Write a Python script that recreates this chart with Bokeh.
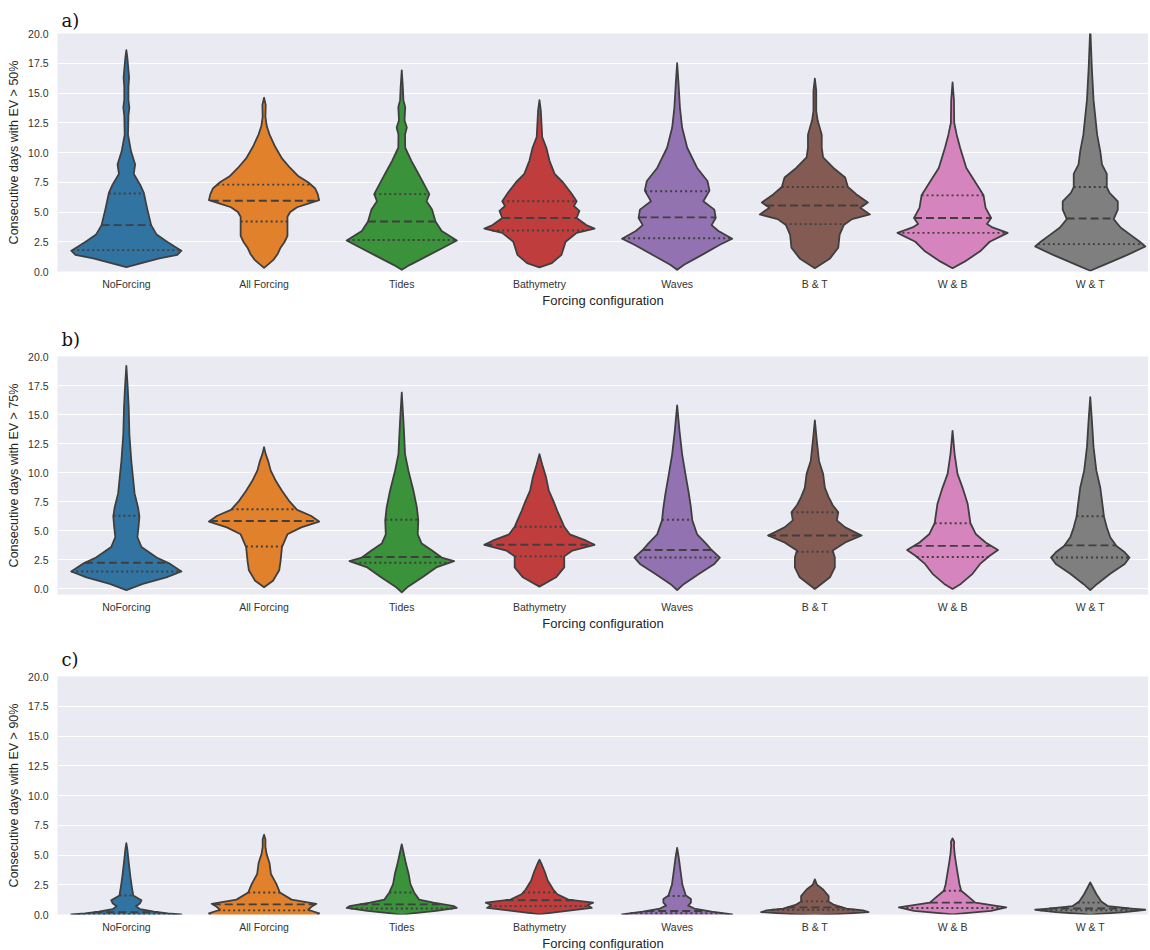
import numpy as np
from bokeh.plotting import figure
from bokeh.models import ColumnDataSource, Range1d, FixedTicker, NumeralTickFormatter, Title
from bokeh.layouts import column
from bokeh.embed import file_html
from bokeh.resources import INLINE

# ---------------- data ----------------
categories = ["NoForcing", "All Forcing", "Tides", "Bathymetry", "Waves", "B & T", "W & B", "W & T"]
y_ticks = [0.0, 2.5, 5.0, 7.5, 10.0, 12.5, 15.0, 17.5, 20.0]

# Panel a) EV > 50% : violin outlines (value, half-width in category units)
a_noforcing_y = [0.37, 0.7, 1.1, 1.4, 1.75, 2.1, 2.55, 3.1, 3.9, 5.35, 6.6, 7.3, 8.2, 9.0, 10.1, 11.5, 13.1, 13.8, 14.4, 15.5, 16.3, 18.0, 18.6]
a_noforcing_w = [0, 0.11, 0.24, 0.37, 0.40, 0.35, 0.29, 0.22, 0.18, 0.15, 0.127, 0.10, 0.054, 0.064, 0.034, 0.012, 0.015, 0.022, 0.015, 0.015, 0.02, 0.007, 0]
a_allforcing_y = [0.3, 0.6, 1.0, 1.5, 2.0, 2.5, 3.0, 4.0, 4.6, 5.0, 5.4, 5.7, 6.0, 6.5, 7.0, 7.5, 8.0, 8.7, 9.5, 10.5, 11.5, 12.2, 13.0, 14.0, 14.6]
a_allforcing_w = [0, 0.03, 0.07, 0.10, 0.12, 0.15, 0.17, 0.17, 0.17, 0.19, 0.24, 0.32, 0.40, 0.39, 0.37, 0.32, 0.25, 0.19, 0.13, 0.08, 0.04, 0.02, 0.01, 0.012, 0]
a_tides_y = [0.14, 0.56, 1.4, 2.0, 2.6, 3.4, 4.2, 5.2, 5.9, 6.5, 7.6, 8.45, 9.3, 10.4, 11.5, 12.1, 12.7, 13.8, 14.4, 15.5, 16.9]
a_tides_w = [0, 0.06, 0.2, 0.3, 0.40, 0.29, 0.245, 0.22, 0.18, 0.2, 0.15, 0.11, 0.07, 0.025, 0.024, 0.037, 0.02, 0.025, 0.012, 0.008, 0]
a_bathy_y = [0.34, 0.7, 1.4, 2.5, 3.25, 3.6, 3.9, 4.5, 5.1, 5.5, 5.9, 6.6, 7.5, 8.2, 9.3, 10.4, 11.3, 13.5, 14.4]
a_bathy_w = [0, 0.09, 0.16, 0.19, 0.27, 0.40, 0.34, 0.27, 0.29, 0.25, 0.27, 0.23, 0.17, 0.11, 0.073, 0.05, 0.02, 0.01, 0]
a_waves_y = [0.14, 0.56, 1.4, 2.25, 2.75, 3.4, 3.9, 4.5, 5.2, 5.9, 6.8, 7.6, 8.7, 10.4, 12.1, 13.8, 15.8, 17.5]
a_waves_w = [0, 0.05, 0.18, 0.31, 0.40, 0.30, 0.25, 0.28, 0.27, 0.19, 0.235, 0.22, 0.145, 0.073, 0.036, 0.02, 0.01, 0]
a_bt_y = [0.28, 1.1, 2.0, 3.1, 3.9, 4.4, 4.8, 5.35, 5.8, 6.5, 7.1, 7.9, 8.7, 9.6, 10.4, 11.5, 12.7, 13.5, 15.2, 16.2]
a_bt_w = [0, 0.11, 0.17, 0.18, 0.21, 0.27, 0.40, 0.33, 0.385, 0.30, 0.24, 0.22, 0.135, 0.06, 0.05, 0.05, 0.02, 0.01, 0.01, 0]
a_wb_y = [0.28, 0.85, 1.7, 2.5, 3.25, 3.7, 4.0, 4.5, 5.35, 6.4, 7.6, 8.7, 10.4, 11.5, 12.5, 14.4, 15.9]
a_wb_w = [0, 0.09, 0.2, 0.27, 0.40, 0.29, 0.25, 0.28, 0.24, 0.225, 0.16, 0.10, 0.055, 0.03, 0.012, 0.01, 0]
a_wt_y = [0.06, 0.56, 1.4, 2.1, 2.5, 3.1, 3.7, 4.4, 5.2, 5.9, 6.6, 7.1, 8.2, 9.0, 10.1, 11.5, 14.4, 17.0, 20.5]
a_wt_w = [0, 0.1, 0.27, 0.40, 0.36, 0.29, 0.22, 0.17, 0.2, 0.2, 0.14, 0.12, 0.12, 0.085, 0.073, 0.05, 0.024, 0.012, 0]
a_q1 = [1.8, 4.2, 2.65, 3.45, 2.8, 3.98, 3.25, 2.3]
a_med = [3.9, 5.95, 4.2, 4.5, 4.55, 5.55, 4.5, 4.45]
a_q3 = [6.55, 7.3, 6.5, 5.9, 6.75, 7.1, 6.4, 7.1]

# Panel b) EV > 75%
b_noforcing_y = [-0.1, 0.43, 1.0, 1.5, 2.2, 2.7, 3.6, 4.45, 5.3, 6.25, 7.0, 8.2, 9.6, 11.0, 13.3, 15.6, 17.3, 19.2]
b_noforcing_w = [0, 0.12, 0.29, 0.40, 0.31, 0.22, 0.11, 0.08, 0.088, 0.095, 0.085, 0.06, 0.048, 0.036, 0.022, 0.017, 0.01, 0]
b_allforcing_y = [0.14, 0.7, 1.6, 2.4, 3.6, 4.7, 5.3, 5.8, 6.3, 6.8, 7.6, 8.45, 9.3, 10.2, 11.0, 11.6, 12.2]
b_allforcing_w = [0, 0.065, 0.11, 0.12, 0.13, 0.17, 0.27, 0.40, 0.34, 0.24, 0.18, 0.13, 0.085, 0.048, 0.03, 0.012, 0]
b_tides_y = [-0.3, 0.14, 1.0, 1.85, 2.4, 2.7, 3.3, 3.9, 4.7, 5.9, 7.0, 8.45, 10.2, 11.6, 14.5, 16.9]
b_tides_w = [0, 0.04, 0.15, 0.25, 0.38, 0.29, 0.22, 0.145, 0.116, 0.12, 0.11, 0.085, 0.048, 0.024, 0.012, 0]
b_bathy_y = [0.2, 1.0, 1.85, 2.8, 3.3, 3.8, 4.15, 4.7, 5.35, 5.9, 6.7, 7.6, 8.45, 9.6, 10.7, 11.6]
b_bathy_w = [0, 0.12, 0.18, 0.18, 0.24, 0.40, 0.34, 0.22, 0.18, 0.16, 0.13, 0.10, 0.068, 0.048, 0.02, 0]
b_waves_y = [-0.1, 0.43, 1.3, 2.15, 2.7, 3.35, 3.9, 4.7, 5.9, 7.0, 8.2, 9.9, 11.6, 13.6, 15.8]
b_waves_w = [0, 0.05, 0.16, 0.27, 0.31, 0.25, 0.21, 0.145, 0.11, 0.1, 0.085, 0.06, 0.036, 0.017, 0]
b_bt_y = [0.0, 1.0, 1.85, 2.7, 3.3, 4.0, 4.6, 5.3, 5.9, 6.6, 7.2, 7.9, 8.7, 9.9, 11.0, 13.0, 14.5]
b_bt_w = [0, 0.11, 0.145, 0.145, 0.13, 0.22, 0.34, 0.22, 0.16, 0.17, 0.13, 0.1, 0.073, 0.06, 0.03, 0.012, 0]
b_wb_y = [0.0, 0.43, 1.3, 2.15, 2.85, 3.35, 4.0, 4.7, 5.65, 7.3, 8.7, 9.9, 11.6, 13.6]
b_wb_w = [0, 0.06, 0.145, 0.2, 0.27, 0.33, 0.24, 0.17, 0.13, 0.11, 0.073, 0.036, 0.015, 0]
b_wt_y = [-0.1, 0.43, 1.3, 2.15, 2.7, 3.15, 3.7, 4.45, 5.3, 6.2, 7.6, 8.7, 10.2, 12.2, 14.5, 16.5]
b_wt_w = [0, 0.05, 0.145, 0.25, 0.285, 0.25, 0.19, 0.145, 0.12, 0.1, 0.085, 0.073, 0.044, 0.024, 0.012, 0]
b_q1 = [1.5, 3.65, 2.25, 2.8, 2.7, 3.2, 2.75, 2.7]
b_med = [2.25, 5.85, 2.75, 3.8, 3.35, 4.6, 3.7, 3.75]
b_q3 = [6.3, 6.85, 5.95, 5.35, 5.95, 6.6, 5.65, 6.25]

# Panel c) EV > 90%
c_noforcing_y = [-0.9, -0.6, -0.3, 0.0, 0.1, 0.25, 0.45, 0.7, 0.95, 1.2, 1.6, 2.3, 3.1, 4.3, 5.4, 6.0]
c_noforcing_w = [0, 0.12, 0.3, 0.40, 0.3, 0.2, 0.1, 0.07, 0.1, 0.11, 0.05, 0.04, 0.03, 0.018, 0.008, 0]
c_allforcing_y = [-0.9, -0.5, -0.2, 0.1, 0.4, 0.7, 0.9, 1.25, 1.85, 2.55, 3.4, 4.3, 5.1, 5.7, 6.3, 6.7]
c_allforcing_w = [0, 0.2, 0.38, 0.40, 0.32, 0.35, 0.38, 0.2, 0.115, 0.09, 0.05, 0.04, 0.018, 0.01, 0.01, 0]
c_tides_y = [-0.05, 0.1, 0.3, 0.55, 0.7, 1.0, 1.25, 1.85, 2.55, 3.4, 4.3, 5.1, 5.9]
c_tides_w = [0, 0.076, 0.25, 0.40, 0.38, 0.23, 0.126, 0.09, 0.063, 0.05, 0.03, 0.015, 0]
c_bathy_y = [0.0, 0.1, 0.3, 0.55, 0.8, 1.0, 1.25, 1.7, 2.1, 2.85, 3.55, 4.3, 4.6]
c_bathy_w = [0, 0.05, 0.2, 0.38, 0.35, 0.39, 0.21, 0.13, 0.1, 0.06, 0.04, 0.013, 0]
c_waves_y = [-0.7, -0.3, 0.0, 0.25, 0.5, 0.75, 1.0, 1.3, 1.6, 2.5, 3.6, 4.75, 5.6]
c_waves_w = [0, 0.25, 0.40, 0.25, 0.125, 0.08, 0.1, 0.1, 0.063, 0.038, 0.025, 0.012, 0]
c_bt_y = [-0.1, 0.05, 0.2, 0.35, 0.5, 0.8, 1.1, 1.55, 2.1, 2.5, 2.95]
c_bt_w = [0, 0.2, 0.39, 0.35, 0.23, 0.14, 0.1, 0.1, 0.06, 0.015, 0]
c_wb_y = [0.0, 0.1, 0.3, 0.6, 1.0, 1.4, 2.0, 2.55, 3.4, 4.3, 5.1, 5.8, 6.1, 6.4]
c_wb_w = [0, 0.076, 0.28, 0.39, 0.165, 0.125, 0.063, 0.05, 0.038, 0.025, 0.015, 0.01, 0.012, 0]
c_wt_y = [-0.05, 0.03, 0.2, 0.4, 0.5, 0.7, 1.1, 1.7, 2.25, 2.7]
c_wt_w = [0, 0.04, 0.25, 0.40, 0.3, 0.13, 0.08, 0.045, 0.02, 0]
c_q1 = [0.05, 0.35, 0.5, 0.7, 0.1, 0.4, 0.55, 0.35]
c_med = [0.2, 0.85, 0.85, 1.2, 0.3, 0.6, 1.0, 0.5]
c_q3 = [1.6, 1.85, 1.85, 1.85, 1.55, 1.1, 2.0, 1.0]

# ---------------- style ----------------
palette = ["#3274A1", "#E1812C", "#3A923A", "#C03D3E", "#9372B2", "#845B53", "#D684BD", "#7F7F7F"]
edge = "#3f3f3f"
SANS = "Liberation Sans"


def make_panel(tag, ylabel, yrange, profiles, q1, med, q3, top, bottom, standoff):
    p = figure(frame_width=1091, frame_height=238,
               x_range=Range1d(-0.5, 7.423), y_range=Range1d(*yrange),
               output_backend="svg", toolbar_location=None,
               min_border_left=57, min_border_right=0,
               min_border_top=top, min_border_bottom=bottom,
               background_fill_color="#EAEAF2", border_fill_color="white",
               outline_line_color=None)
    p.title = Title(text=tag, text_font="DejaVu Serif", text_font_size="18px",
                    text_font_style="normal", text_color="#111111",
                    align="left", offset=4, standoff=standoff)

    xs, ys = [], []
    for i, (yv, wv) in enumerate(profiles):
        yv = np.asarray(yv, float)
        wv = np.asarray(wv, float)
        xs.append(list(i + wv) + list((i - wv)[::-1]))
        ys.append(list(yv) + list(yv[::-1]))
    src = ColumnDataSource(dict(xs=xs, ys=ys, color=palette))
    p.patches("xs", "ys", source=src, fill_color="color", line_color=edge,
              line_width=1.8, line_join="round")

    def seg(vals):
        x0, x1, yy = [], [], []
        for i, (prof, v) in enumerate(zip(profiles, vals)):
            w = float(np.interp(v, prof[0], prof[1]))
            x0.append(i - w)
            x1.append(i + w)
            yy.append(v)
        return ColumnDataSource(dict(x0=x0, x1=x1, y=yy))

    p.segment("x0", "y", "x1", "y", source=seg(q1), line_color=edge, line_width=1.9, line_dash="2 3")
    p.segment("x0", "y", "x1", "y", source=seg(q3), line_color=edge, line_width=1.9, line_dash="2 3")
    p.segment("x0", "y", "x1", "y", source=seg(med), line_color=edge, line_width=1.9, line_dash="8 4")

    p.xaxis.ticker = FixedTicker(ticks=list(range(len(categories))))
    p.xaxis.major_label_overrides = {i: c for i, c in enumerate(categories)}
    p.yaxis.ticker = FixedTicker(ticks=y_ticks)
    p.yaxis.formatter = NumeralTickFormatter(format="0.0")
    p.xaxis.axis_label = "Forcing configuration"
    p.yaxis.axis_label = ylabel
    for ax in (p.xaxis[0], p.yaxis[0]):
        ax.axis_line_color = None
        ax.major_tick_line_color = None
        ax.minor_tick_line_color = None
        ax.major_tick_out = 0
        ax.major_tick_in = 0
        ax.major_label_text_font = SANS
        ax.major_label_text_font_size = "10.5px"
        ax.major_label_text_color = "#333333"
        ax.axis_label_text_font = SANS
        ax.axis_label_text_font_style = "normal"
        ax.axis_label_text_color = "#262626"
    p.xaxis.major_label_standoff = 6
    p.xaxis.axis_label_standoff = 0
    p.xaxis.axis_label_text_font_size = "13px"
    p.yaxis.major_label_standoff = 9
    p.yaxis.axis_label_standoff = 4
    p.yaxis.axis_label_text_font_size = "12.5px"
    p.xgrid.visible = False
    p.ygrid.grid_line_color = "white"
    p.ygrid.grid_line_width = 1.2
    return p


prof_a = [(a_noforcing_y, a_noforcing_w), (a_allforcing_y, a_allforcing_w), (a_tides_y, a_tides_w),
          (a_bathy_y, a_bathy_w), (a_waves_y, a_waves_w), (a_bt_y, a_bt_w), (a_wb_y, a_wb_w), (a_wt_y, a_wt_w)]
prof_b = [(b_noforcing_y, b_noforcing_w), (b_allforcing_y, b_allforcing_w), (b_tides_y, b_tides_w),
          (b_bathy_y, b_bathy_w), (b_waves_y, b_waves_w), (b_bt_y, b_bt_w), (b_wb_y, b_wb_w), (b_wt_y, b_wt_w)]
prof_c = [(c_noforcing_y, c_noforcing_w), (c_allforcing_y, c_allforcing_w), (c_tides_y, c_tides_w),
          (c_bathy_y, c_bathy_w), (c_waves_y, c_waves_w), (c_bt_y, c_bt_w), (c_wb_y, c_wb_w), (c_wt_y, c_wt_w)]

p1 = make_panel("a)", "Consecutive days with EV > 50%", (0, 20), prof_a, a_q1, a_med, a_q3, 33, 40, 6)
p2 = make_panel("b)", "Consecutive days with EV > 75%", (-0.48, 20), prof_b, b_q1, b_med, b_q3, 45, 40, 14)
p3 = make_panel("c)", "Consecutive days with EV > 90%", (0, 20), prof_c, c_q1, c_med, c_q3, 42, 34, 14)

layout = column(p1, p2, p3)
open("out.html", "w").write(file_html(layout, INLINE))
